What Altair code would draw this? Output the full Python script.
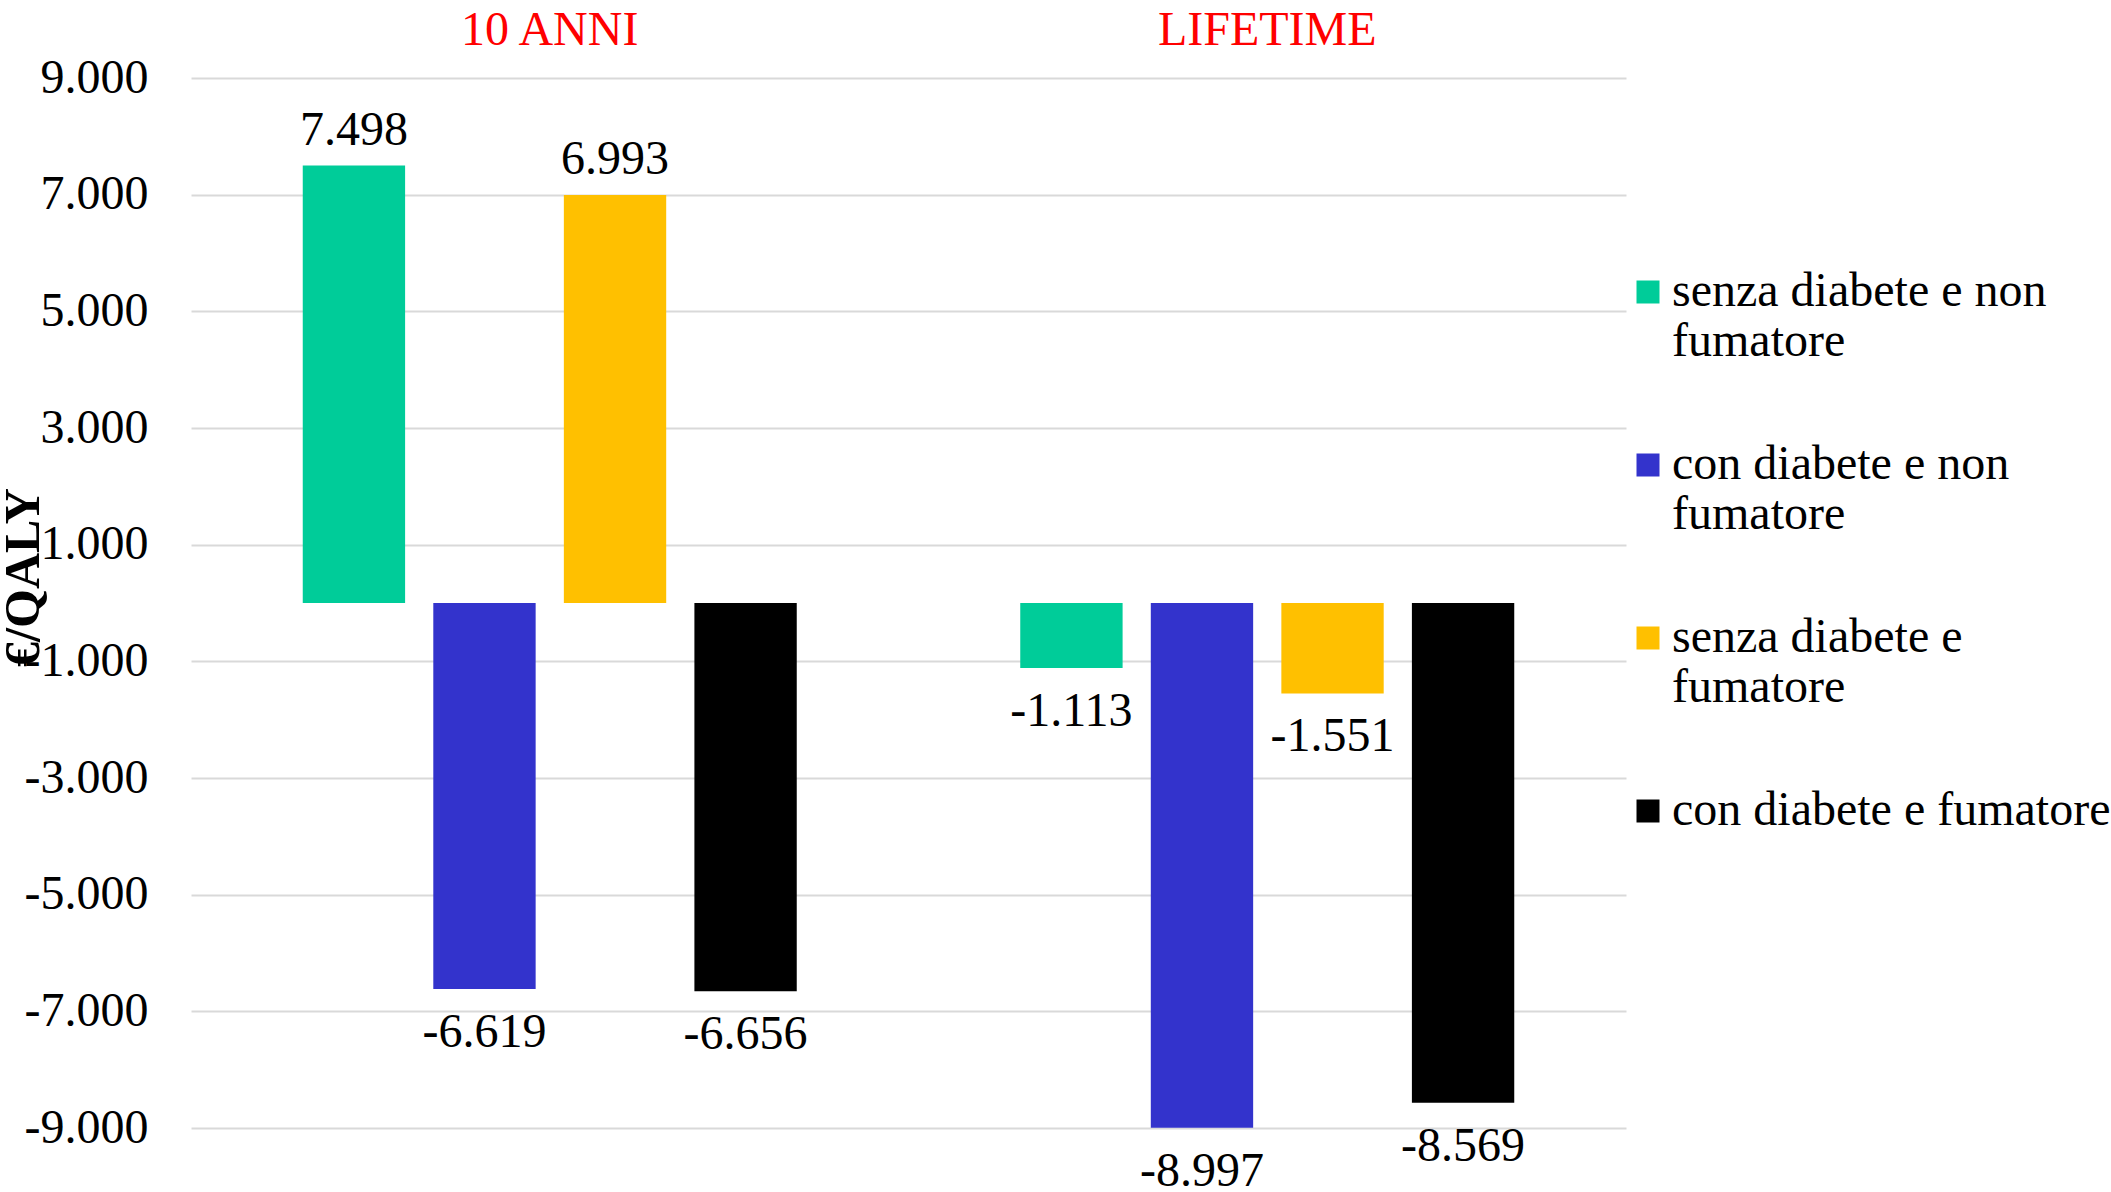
import altair as alt
import pandas as pd

periods = ["10 ANNI", "LIFETIME"]
groups = [
    "senza diabete e non fumatore",
    "con diabete e non fumatore",
    "senza diabete e fumatore",
    "con diabete e fumatore",
]
colors = ["#00CC99", "#3333CC", "#FFC000", "#000000"]
values_10_anni = [7498, -6619, 6993, -6656]
values_lifetime = [-1113, -8997, -1551, -8569]
y_ticks = [9000, 7000, 5000, 3000, 1000, -1000, -3000, -5000, -7000, -9000]

rows = []
for p, vals in zip(periods, [values_10_anni, values_lifetime]):
    for g, v in zip(groups, vals):
        rows.append({"periodo": p, "gruppo": g, "valore": v})
df = pd.DataFrame(rows)

FONT = "Liberation Serif"
fmt = "(datum.valore < 0 ? '-' : '') + replace(format(abs(datum.valore), ','), ',', '.')"
axis_fmt = "(datum.value < 0 ? '-' : '') + replace(format(abs(datum.value), ','), ',', '.')"

base = alt.Chart(df).encode(
    x=alt.X(
        "periodo:N",
        sort=periods,
        scale=alt.Scale(paddingInner=0, paddingOuter=0),
        axis=alt.Axis(
            orient="top", title=None, domain=False, ticks=False, grid=False,
            labelAngle=0, labelColor="#FF0000", labelFontSize=48, labelFont=FONT,
            labelPadding=34, labelBaseline="alphabetic", labelLimit=1000,
        ),
    ),
    xOffset=alt.XOffset(
        "gruppo:N", sort=groups,
        scale=alt.Scale(paddingInner=0.216, paddingOuter=0.856),
    ),
)

yscale = alt.Scale(domain=[-9000, 9000], nice=False, zero=False)

bars = base.mark_bar().encode(
    y=alt.Y(
        "valore:Q",
        scale=yscale,
        axis=alt.Axis(
            values=y_ticks, labelExpr=axis_fmt, domain=False, ticks=False,
            grid=True, gridColor="#D9D9D9", gridWidth=2,
            labelFont=FONT, labelFontSize=48, labelColor="#000000", labelPadding=43,
            title="€/QALY", titleFont=FONT, titleFontSize=50, titleFontWeight="bold",
            titleColor="#000000", titleAngle=-90, titleX=-153, titleY=499,
            titleAlign="center", titleBaseline="alphabetic",
        ),
    ),
    color=alt.Color(
        "gruppo:N",
        sort=groups,
        scale=alt.Scale(domain=groups, range=colors),
        legend=alt.Legend(
            title=None, orient="none", legendX=1433, legendY=190,
            symbolType="square", symbolSize=529, symbolStrokeWidth=0,
            labelFont=FONT, labelFontSize=48, labelColor="#000000",
            labelOffset=0, rowPadding=75, labelLimit=600,
            labelExpr="length(datum.label) > 22 ? [replace(datum.label, ' fumatore', ''), 'fumatore'] : datum.label",
        ),
    ),
)

pos_labels = base.transform_filter("datum.valore >= 0").transform_calculate(
    etichetta=fmt
).mark_text(baseline="alphabetic", dy=-21, font=FONT, fontSize=48, color="#000000").encode(
    y=alt.Y("valore:Q", scale=yscale), text="etichetta:N"
)

neg_labels = base.transform_filter("datum.valore < 0").transform_calculate(
    etichetta=fmt
).mark_text(baseline="alphabetic", dy=58, font=FONT, fontSize=48, color="#000000").encode(
    y=alt.Y("valore:Q", scale=yscale), text="etichetta:N"
)

chart = alt.layer(bars, pos_labels, neg_labels).properties(
    width=1435,
    height=1050,
    autosize=alt.AutoSizeParams(type="none"),
    padding={"left": 191, "top": 78, "right": 485, "bottom": 64},
    background="white",
).configure_view(stroke=None)

chart.save("out.html", embed_options={"renderer": "svg", "actions": False})
